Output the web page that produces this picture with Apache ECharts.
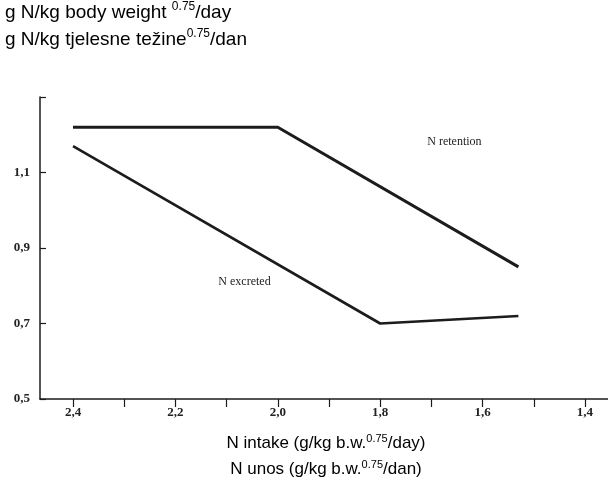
<!DOCTYPE html>
<html><head><meta charset="utf-8">
<script src="https://cdn.jsdelivr.net/npm/echarts@6/dist/echarts.min.js"></script>
<style>html,body{margin:0;padding:0;background:#fff}#c{width:608px;height:497px}</style>
</head><body><div id="c"></div>
<script>
// Data
const retentionX = [2.4, 2.0, 1.53];
const retentionY = [1.22, 1.22, 0.85];
const excretedX = [2.4, 1.8, 1.53];
const excretedY = [1.17, 0.70, 0.72];
const xTickValues = [2.4, 2.3, 2.2, 2.1, 2.0, 1.9, 1.8, 1.7, 1.6, 1.5, 1.4];
const xLabelValues = [2.4, 2.2, 2.0, 1.8, 1.6, 1.4];
const yHiddenLabel = 1.3;
const notes = [
  {name: 'N retention', x: 1.655, y: 1.18},
  {name: 'N excreted', x: 2.065, y: 0.81}
];

const comma = v => Number(v).toFixed(1).replace('.', ',');
const chart = echarts.init(document.getElementById('c'), null, {renderer: 'canvas'});
const ink = '#1c1c1c';
const sans = 'Liberation Sans, Arial, sans-serif';
const serif = 'Liberation Serif, Times New Roman, serif';
const supRich = {
  t: {fontFamily: sans, fontSize: 19, color: ink},
  s: {fontFamily: sans, fontSize: 12, color: ink, padding: [0,0,11,0]}
};
const supRich2 = {
  t: {fontFamily: sans, fontSize: 17, color: ink},
  s: {fontFamily: sans, fontSize: 11, color: ink, padding: [0,0,10,0]}
};
chart.setOption({
  animation: false,
  backgroundColor: '#fff',
  grid: {left: 40, right: 0, top: 97, bottom: 98, containLabel: false},
  xAxis: {
    type: 'value', inverse: true, min: 1.355, max: 2.4645,
    axisLine: {show: true, lineStyle: {color: ink, width: 1.5}},
    axisTick: {show: true, inside: false, length: 8, customValues: xTickValues, lineStyle: {color: ink, width: 1.2}},
    axisLabel: {show: true, customValues: xLabelValues, margin: 7, formatter: v => comma(v),
      fontFamily: serif, fontSize: 13, fontWeight: 'bold', color: '#222'},
    splitLine: {show: false}
  },
  yAxis: {
    type: 'value', min: 0.5, max: 1.3, interval: 0.2,
    axisLine: {show: true, lineStyle: {color: ink, width: 1.5}},
    axisTick: {show: true, inside: true, length: 6, lineStyle: {color: ink, width: 1.2}},
    axisLabel: {margin: 10, formatter: v => Math.abs(v - yHiddenLabel) < 1e-6 ? '' : comma(v),
      fontFamily: serif, fontSize: 13, fontWeight: 'bold', color: '#222'},
    splitLine: {show: false}
  },
  series: [
    {type: 'line', name: 'N retention', data: retentionX.map((x, i) => [x, retentionY[i]]),
      symbol: 'none', lineStyle: {color: ink, width: 3}},
    {type: 'line', name: 'N excreted', data: excretedX.map((x, i) => [x, excretedY[i]]),
      symbol: 'none', lineStyle: {color: ink, width: 2.6},
      markPoint: {symbol: 'circle', symbolSize: 0,
        label: {show: true, formatter: p => p.name, fontFamily: serif, fontSize: 12, color: '#222', position: 'inside'},
        data: notes.map(n => ({name: n.name, coord: [n.x, n.y]}))}}
  ],
  graphic: [
    {type: 'text', left: 5, top: 1, style: {text: '{t|g N/kg body weight }{s|0.75}{t|/day}', rich: supRich}},
    {type: 'text', left: 5, top: 28, style: {text: '{t|g N/kg tjelesne težine}{s|0.75}{t|/dan}', rich: supRich}},
    {type: 'text', x: 326, y: 433, style: {text: '{t|N intake (g/kg b.w.}{s|0.75}{t|/day)}', rich: supRich2, align: 'center'}},
    {type: 'text', x: 326, y: 459, style: {text: '{t|N unos (g/kg b.w.}{s|0.75}{t|/dan)}', rich: supRich2, align: 'center'}}
  ]
});
</script></body></html>
